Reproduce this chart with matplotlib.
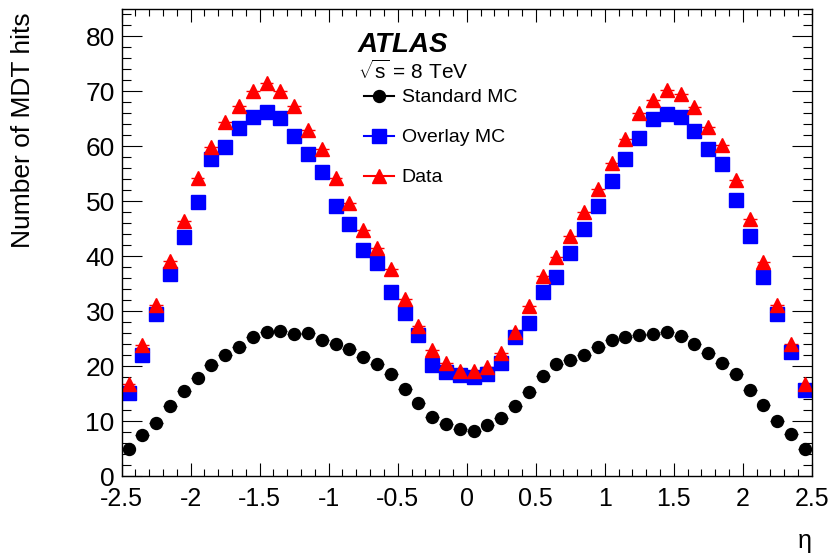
import numpy as np
import matplotlib
matplotlib.use("Agg")
import matplotlib.pyplot as plt
from matplotlib.lines import Line2D
from matplotlib.ticker import MultipleLocator

plt.rcParams['font.family'] = ['Liberation Sans', 'DejaVu Sans']
plt.rcParams['mathtext.fontset'] = 'custom'
plt.rcParams['mathtext.rm'] = 'Liberation Sans'
plt.rcParams['mathtext.it'] = 'Liberation Sans:italic'

# eta bin centres (50 bins of width 0.1)
eta = np.round(np.arange(-2.45, 2.5, 0.1), 2)

standard_mc = [5.0, 7.4, 9.6, 12.8, 15.5, 17.8, 20.2, 22.0, 23.4, 25.3,
               26.3, 26.4, 25.9, 26.1, 24.7, 24.1, 23.2, 21.7, 20.3, 18.6,
               15.9, 13.2, 10.8, 9.5, 8.5, 8.2, 9.3, 10.5, 12.8, 15.3,
               18.2, 20.4, 21.1, 22.1, 23.5, 24.7, 25.3, 25.6, 25.8, 26.3,
               25.5, 24.0, 22.3, 20.6, 18.6, 15.6, 13.0, 10.0, 7.6, 5.0]

overlay_mc = [15.2, 22.1, 29.5, 36.7, 43.5, 49.9, 57.7, 59.8, 63.3, 65.3,
              66.3, 65.2, 61.9, 58.6, 55.3, 49.2, 45.9, 41.2, 38.8, 33.5,
              29.7, 25.6, 20.2, 19.0, 18.3, 18.0, 18.5, 20.5, 25.3, 27.9,
              33.5, 36.2, 40.6, 44.9, 49.1, 53.7, 57.7, 61.6, 65.0, 65.8,
              65.3, 62.8, 59.6, 56.7, 50.2, 43.7, 36.2, 29.4, 22.6, 15.6]

data = [16.7, 23.8, 31.2, 39.1, 46.5, 54.3, 59.8, 64.5, 67.3, 70.1,
        71.6, 70.1, 67.3, 62.9, 59.5, 54.3, 49.7, 44.8, 41.5, 37.6,
        32.3, 27.3, 23.0, 20.6, 19.2, 19.1, 19.8, 22.4, 26.2, 30.9,
        36.4, 39.8, 43.6, 48.0, 52.3, 57.0, 61.3, 66.1, 68.5, 70.2,
        69.6, 67.1, 63.6, 60.2, 53.9, 46.8, 38.9, 31.2, 24.0, 16.8]

fig = plt.figure(figsize=(8.34, 5.55), dpi=100)
ax = fig.add_axes([0.1459, 0.1423, 0.8274, 0.8415])

ax.errorbar(eta, standard_mc, xerr=0.05, fmt='o', color='black', ms=8.6,
            elinewidth=1, capsize=0)
ax.errorbar(eta, overlay_mc, xerr=0.05, fmt='s', color='#0000ff', ms=9.4,
            elinewidth=1, capsize=0)
ax.errorbar(eta, data, xerr=0.05, fmt='^', color='#ff0000', ms=10.2,
            elinewidth=1, capsize=0)

ax.set_xlim(-2.5, 2.5)
ax.set_ylim(0, 85)
ax.xaxis.set_minor_locator(MultipleLocator(0.1))
ax.yaxis.set_major_locator(MultipleLocator(10))
ax.yaxis.set_minor_locator(MultipleLocator(2))
ax.set_xticks(np.arange(-2.5, 2.51, 0.5))
ax.set_xticklabels(['-2.5', '-2', '-1.5', '-1', '-0.5', '0', '0.5', '1', '1.5', '2', '2.5'])

ax.tick_params(axis='both', which='both', direction='in', top=True, right=True, width=0.8)
ax.tick_params(axis='x', which='major', length=9.4, labelsize=18, pad=8)
ax.tick_params(axis='x', which='minor', length=4.7)
ax.tick_params(axis='y', which='major', length=14.4, labelsize=19, pad=5)
ax.tick_params(axis='y', which='minor', length=6.8)
for s in ax.spines.values():
    s.set_linewidth(1.0)

fig.text(23 / 834, 1 - 12 / 555, 'Number of MDT hits', rotation=90,
         ha='center', va='top', fontsize=19)
fig.text(812 / 834, 1 - 541 / 555, 'η', ha='right', va='center', fontsize=18)

ax.text(0.3425, 0.923, 'ATLAS', transform=ax.transAxes, fontsize=20,
        fontweight='bold', fontstyle='italic', va='center', ha='left')
ax.text(0.3425, 0.866, r'$\sqrt{\mathrm{s}}$ = 8 TeV', transform=ax.transAxes,
        fontsize=15, va='center', ha='left')

handles = [
    Line2D([], [], color='black', marker='o', ms=8.6, lw=1.5),
    Line2D([], [], color='#0000ff', marker='s', ms=9.4, lw=1.5),
    Line2D([], [], color='#ff0000', marker='^', ms=10.2, lw=1.5),
]
ax.legend(handles, ['Standard MC', 'Overlay MC', 'Data'], loc='upper left',
          bbox_to_anchor=(0.351, 0.829), frameon=False, fontsize=14,
          borderpad=0, borderaxespad=0, handlelength=1.54, handletextpad=0.4,
          labelspacing=1.15)

fig.savefig('out.png', dpi=100)
